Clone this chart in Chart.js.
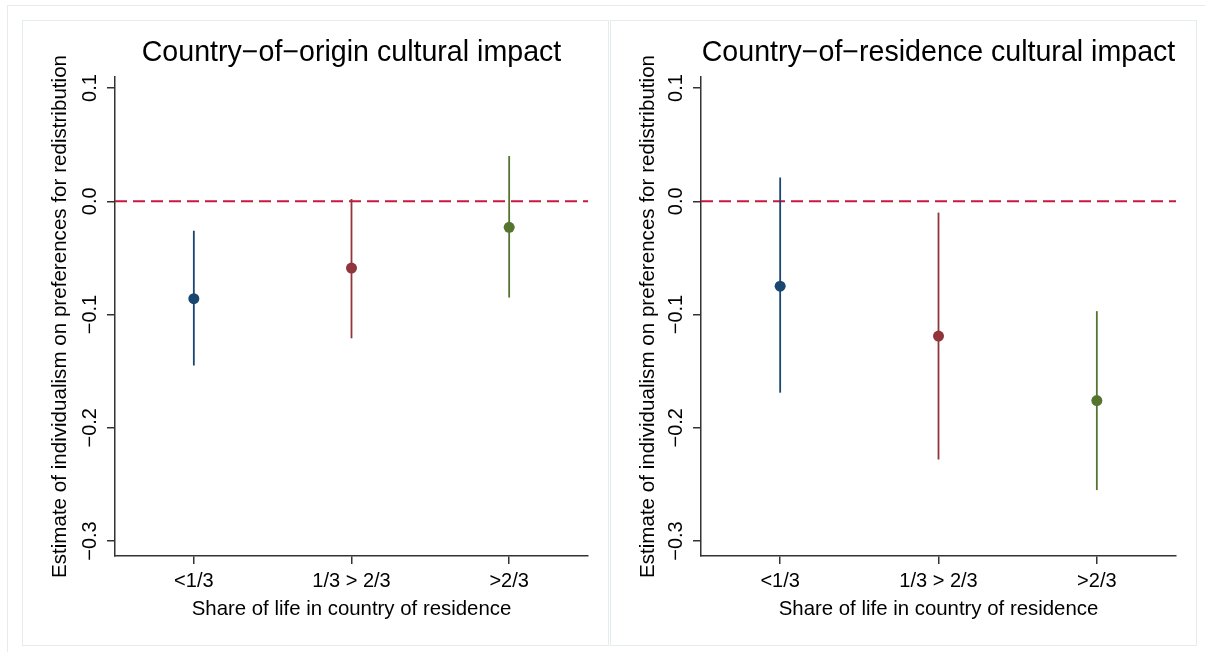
<!DOCTYPE html>
<html>
<head>
<meta charset="utf-8">
<script src="https://cdn.jsdelivr.net/npm/chart.js@4.4.1/dist/chart.umd.min.js"></script>
<style>
  html, body { margin:0; padding:0; background:#fff; }
  body { width:1205px; height:652px; overflow:hidden; position:relative; }
  .frame { position:absolute; border:1px solid #e4ecee; box-sizing:content-box; pointer-events:none; }
  canvas { position:absolute; }
</style>
</head>
<body>
<div class="frame" style="left:7px;top:5px;width:1210px;height:660px;"></div>
<canvas id="c1" width="586" height="625" style="left:22px;top:20px;"></canvas>
<canvas id="c2" width="586" height="625" style="left:610px;top:20px;"></canvas>
<div class="frame" style="left:22px;top:20px;width:585px;height:624px;"></div>
<div class="frame" style="left:610px;top:20px;width:585px;height:624px;"></div>
<script>
// ---- data ----
const categories = ['<1/3', '1/3 > 2/3', '>2/3'];
const xPositions = [1, 2, 3];
const seriesColors = ['#1a476f', '#90353b', '#55752f'];

const originTitle = 'Country\u2212of\u2212origin cultural impact';
const originEstimate = [-0.086, -0.059, -0.023];
const originLower    = [-0.145, -0.121, -0.085];
const originUpper    = [-0.026,  0.002,  0.040];

const residenceTitle = 'Country\u2212of\u2212residence cultural impact';
const residenceEstimate = [-0.075, -0.119, -0.176];
const residenceLower    = [-0.169, -0.228, -0.255];
const residenceUpper    = [ 0.021, -0.010, -0.097];

const yTickValues = [0.1, 0.0, -0.1, -0.2, -0.3];
const yTickLabels = ['0.1', '0.0', '\u22120.1', '\u22120.2', '\u22120.3'];
const yTitle = 'Estimate of individualism on preferences for redistribution';
const xTitle = 'Share of life in country of residence';
const referenceLine = 0;

// ---- chart ----
Chart.defaults.font.family = "'Liberation Sans', Arial, Helvetica, sans-serif";
Chart.defaults.color = '#000';

const rotatedYTicks = {
  id: 'rotatedYTicks',
  afterDraw(chart) {
    const y = chart.scales.y;
    const ctx = chart.ctx;
    ctx.save();
    ctx.font = "20px 'Liberation Sans', Arial, sans-serif";
    ctx.fillStyle = '#000';
    ctx.textAlign = 'center';
    ctx.textBaseline = 'middle';
    yTickValues.forEach((v, i) => {
      const py = y.getPixelForValue(v);
      ctx.save();
      ctx.translate(y.right - 25, py);
      ctx.rotate(-Math.PI / 2);
      ctx.fillText(yTickLabels[i], 0, 0);
      ctx.restore();
    });
    ctx.restore();
  }
};

function makeChart(id, title, est, lo, hi, yWidth) {
  const datasets = [];
  datasets.push({
    data: xPositions.map((x, i) => ({x: x, y: est[i]})),
    pointRadius: 5.5,
    pointBackgroundColor: seriesColors,
    pointBorderWidth: 0,
    showLine: false
  });
  xPositions.forEach((x, i) => {
    datasets.push({
      data: [{x: x, y: lo[i]}, {x: x, y: hi[i]}],
      showLine: true,
      borderColor: seriesColors[i],
      borderWidth: 1.8,
      pointRadius: 0
    });
  });
  datasets.push({
    data: [{x: 0.5, y: referenceLine}, {x: 3.5, y: referenceLine}],
    showLine: true,
    borderColor: '#c8183f',
    borderWidth: 2,
    borderDash: [12, 6],
    pointRadius: 0
  });

  return new Chart(document.getElementById(id), {
    type: 'scatter',
    data: { datasets },
    options: {
      responsive: false,
      animation: false,
      devicePixelRatio: 1,
      layout: { padding: { left: 0, right: 20, top: 0, bottom: 0 } },
      plugins: {
        legend: { display: false },
        tooltip: { enabled: false },
        title: {
          display: true,
          text: title,
          fullSize: false,
          color: '#000',
          font: { size: 28.6, weight: 'normal' },
          padding: { top: 16, bottom: 6.7 }
        }
      },
      scales: {
        x: {
          type: 'linear',
          min: 0.5,
          max: 3.5,
          afterBuildTicks: (s) => { s.ticks = xPositions.map(v => ({value: v})); },
          afterFit: (s) => { s.height = 89; },
          ticks: {
            font: { size: 20 },
            color: '#000',
            padding: 5,
            maxRotation: 0,
            autoSkip: false,
            callback: (v, i) => categories[i]
          },
          grid: { drawOnChartArea: false, drawTicks: true, tickLength: 8, color: '#333', lineWidth: 1.5 },
          border: { display: true, color: '#333', width: 1.5 },
          title: { display: true, text: xTitle, font: { size: 20.4 }, color: '#000', padding: { top: 0, bottom: 23 } }
        },
        y: {
          type: 'linear',
          min: -0.3132,
          max: 0.1097,
          afterBuildTicks: (s) => { s.ticks = yTickValues.map(v => ({value: v})); },
          afterFit: (s) => { s.width = yWidth; },
          ticks: { font: { size: 20 }, color: 'rgba(0,0,0,0)' },
          grid: { drawOnChartArea: false, drawTicks: true, tickLength: 8, color: '#333', lineWidth: 1.5 },
          border: { display: true, color: '#333', width: 1.5 },
          title: { display: true, text: yTitle, font: { size: 20.6 }, color: '#000', padding: { top: 26, bottom: 0 } }
        }
      }
    },
    plugins: [rotatedYTicks]
  });
}

makeChart('c1', originTitle, originEstimate, originLower, originUpper, 93);
makeChart('c2', residenceTitle, residenceEstimate, residenceLower, residenceUpper, 91);
</script>
</body>
</html>
